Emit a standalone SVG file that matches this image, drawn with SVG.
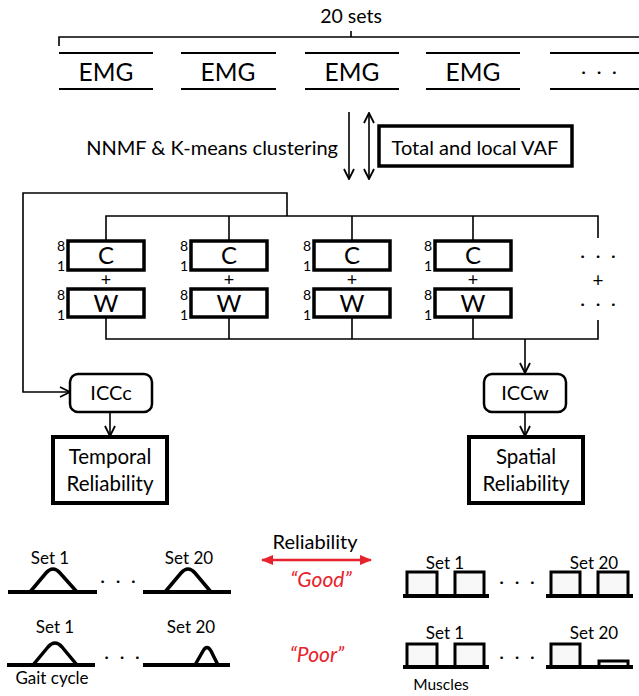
<svg xmlns="http://www.w3.org/2000/svg" width="639" height="696" viewBox="0 0 639 696">
<defs>
<style>
text{font-family:Lato,"Liberation Sans",sans-serif;fill:#000}
.t20{font-size:20px}
.t21{font-size:20.5px}
.emg{font-size:24.5px}
.cw{font-size:24px}
.plus{font-size:18px}
.num{font-size:14px}
.s17{font-size:17px}
.dots{font-size:18px;letter-spacing:3px}
.red{fill:#e8222a;font-style:italic;font-size:21px}
.ln{stroke:#000;stroke-width:1.6;fill:none}
.bx{fill:#fff;stroke:#000;stroke-width:3.5}
.thick{fill:#fff;stroke:#000;stroke-width:4}
.icc{fill:#fff;stroke:#000;stroke-width:2.5}
.base{stroke:#000;stroke-width:4;fill:none}
.hump{stroke:#000;stroke-width:3.5;fill:none;stroke-linejoin:round}
.bar{fill:#f8f8f8;stroke:#000;stroke-width:3}
.emgl{stroke:#000;stroke-width:2;fill:none}
</style>
<marker id="ah" viewBox="0 0 12 12" refX="11" refY="6" markerWidth="12" markerHeight="12" markerUnits="userSpaceOnUse" orient="auto-start-reverse">
<path d="M1,1 L11,6 L1,11" fill="none" stroke="#000" stroke-width="1.8"/>
</marker>
<marker id="rh" viewBox="0 0 12 12" refX="11" refY="6" markerWidth="12" markerHeight="12" markerUnits="userSpaceOnUse" orient="auto-start-reverse">
<path d="M0,1 L12,6 L0,11 Z" fill="#e8222a"/>
</marker>
</defs>
<rect width="639" height="696" fill="#fff"/>

<g id="sets">
<text class="t20" x="351" y="23" text-anchor="middle" style="font-size:19.5px">20 sets</text>
<path class="ln" d="M59,46 V37 H639 M351,37 V31"/>
</g>

<g id="emg">
<path class="emgl" d="M59,53 H153 M181,53 H276 M305,53 H399 M426,53 H520 M550,53 H639 M59,89 H153 M181,89 H276 M305,89 H399 M426,89 H520 M550,89 H639"/>
<text class="emg" x="106" y="81" text-anchor="middle">EMG</text>
<text class="emg" x="228" y="81" text-anchor="middle">EMG</text>
<text class="emg" x="352" y="81" text-anchor="middle">EMG</text>
<text class="emg" x="473" y="81" text-anchor="middle">EMG</text>
<text class="dots" x="600.5" y="78" text-anchor="middle">· · ·</text>
</g>

<g id="nnmf">
<text class="t20" x="338" y="155" text-anchor="end">NNMF &amp; K-means clustering</text>
</g>

<g id="vaf">
<rect class="bx" x="379" y="126" width="193" height="40"/>
<text class="t20" x="475" y="155" text-anchor="middle">Total and local VAF</text>
</g>

<g id="col1">
<rect class="bx" x="68" y="241" width="76" height="29"/>
<rect class="bx" x="68" y="289" width="76" height="28"/>
<text class="cw" x="106" y="264" text-anchor="middle">C</text>
<text class="plus" x="106" y="286" text-anchor="middle">+</text>
<text class="cw" x="106" y="312" text-anchor="middle">W</text>
<text class="num" x="65" y="251" text-anchor="end">8</text>
<text class="num" x="65" y="271" text-anchor="end">1</text>
<text class="num" x="65" y="300" text-anchor="end">8</text>
<text class="num" x="65" y="320" text-anchor="end">1</text>
</g>
<g id="col2">
<rect class="bx" x="191" y="241" width="76" height="29"/>
<rect class="bx" x="191" y="289" width="76" height="28"/>
<text class="cw" x="229" y="264" text-anchor="middle">C</text>
<text class="plus" x="229" y="286" text-anchor="middle">+</text>
<text class="cw" x="229" y="312" text-anchor="middle">W</text>
<text class="num" x="188" y="251" text-anchor="end">8</text>
<text class="num" x="188" y="271" text-anchor="end">1</text>
<text class="num" x="188" y="300" text-anchor="end">8</text>
<text class="num" x="188" y="320" text-anchor="end">1</text>
</g>
<g id="col3">
<rect class="bx" x="314" y="241" width="76" height="29"/>
<rect class="bx" x="314" y="289" width="76" height="28"/>
<text class="cw" x="352" y="264" text-anchor="middle">C</text>
<text class="plus" x="352" y="286" text-anchor="middle">+</text>
<text class="cw" x="352" y="312" text-anchor="middle">W</text>
<text class="num" x="311" y="251" text-anchor="end">8</text>
<text class="num" x="311" y="271" text-anchor="end">1</text>
<text class="num" x="311" y="300" text-anchor="end">8</text>
<text class="num" x="311" y="320" text-anchor="end">1</text>
</g>
<g id="col4">
<rect class="bx" x="435" y="241" width="76" height="29"/>
<rect class="bx" x="435" y="289" width="76" height="28"/>
<text class="cw" x="473" y="264" text-anchor="middle">C</text>
<text class="plus" x="473" y="286" text-anchor="middle">+</text>
<text class="cw" x="473" y="312" text-anchor="middle">W</text>
<text class="num" x="432" y="251" text-anchor="end">8</text>
<text class="num" x="432" y="271" text-anchor="end">1</text>
<text class="num" x="432" y="300" text-anchor="end">8</text>
<text class="num" x="432" y="320" text-anchor="end">1</text>
</g>
<g id="col5">
<text class="dots" x="599.5" y="262" text-anchor="middle">· · ·</text>
<text class="plus" x="598" y="287" text-anchor="middle" style="font-size:19px">+</text>
<text class="dots" x="599.5" y="310" text-anchor="middle">· · ·</text>
</g>

<g id="iccc">
<rect class="icc" x="70" y="374" width="82" height="38" rx="8"/>
<text class="t20" x="111" y="400" text-anchor="middle">ICCc</text>
</g>
<g id="iccw">
<rect class="icc" x="484" y="374" width="82" height="38" rx="8"/>
<text class="t20" x="525" y="400" text-anchor="middle">ICCw</text>
</g>
<g id="temporal">
<rect class="thick" x="53" y="437" width="114" height="66"/>
<text class="t21" x="110" y="464" text-anchor="middle">Temporal</text>
<text class="t21" x="110" y="491" text-anchor="middle">Reliability</text>
</g>
<g id="spatial">
<rect class="thick" x="469" y="437" width="114" height="66"/>
<text class="t21" x="526" y="464" text-anchor="middle">Spatial</text>
<text class="t21" x="526" y="491" text-anchor="middle">Reliability</text>
</g>

<g id="connectors">
<path class="ln" d="M349,112 V179" marker-end="url(#ah)"/>
<path class="ln" d="M369,113 V179" marker-start="url(#ah)" marker-end="url(#ah)"/>
<path class="ln" d="M106,241 V216 H598 V238 M229,216 V241 M352,216 V241 M473,216 V241"/>
<path class="ln" d="M106,317 V339 H598 V320 M229,317 V339 M352,317 V339 M473,317 V339"/>
<path class="ln" d="M287,216 V193 H23 V392 H70" marker-end="url(#ah)"/>
<path class="ln" d="M525,339 V373" marker-end="url(#ah)"/>
<path class="ln" d="M110,412 V436" marker-end="url(#ah)"/>
<path class="ln" d="M525,412 V436" marker-end="url(#ah)"/>
</g>

<g id="legend">
<text class="t20" x="315" y="549" text-anchor="middle">Reliability</text>
<path d="M262,560 H371" stroke="#e8222a" stroke-width="2.5" fill="none" marker-start="url(#rh)" marker-end="url(#rh)"/>
<text class="red" x="321" y="587" text-anchor="middle">“Good”</text>
<text class="red" x="317" y="662" text-anchor="middle">“Poor”</text>

<text class="s17" x="50" y="564" text-anchor="middle">Set 1</text>
<text class="s17" x="189" y="564" text-anchor="middle">Set 20</text>
<path class="base" d="M8,592 H97 M143,592 H231 M7,665 H95 M143,665 H230"/>
<path class="hump" d="M30,592 L46,573 Q53,565 60,573 L77,592"/>
<path class="hump" d="M165,592 L181,573 Q188,565 195,573 L211,592"/>
<text class="dots" x="119.5" y="587" text-anchor="middle">· · ·</text>
<text class="s17" x="55" y="633" text-anchor="middle">Set 1</text>
<text class="s17" x="191" y="633" text-anchor="middle">Set 20</text>
<path class="hump" d="M33,665 L48,647 Q55,639 62,647 L77,665"/>
<path class="hump" d="M195,665 L203,651 Q207,644 211,651 L218,665"/>
<text class="dots" x="123.5" y="663" text-anchor="middle">· · ·</text>
<text class="s17" x="52" y="684" text-anchor="middle">Gait cycle</text>

<text class="s17" x="445" y="569" text-anchor="middle">Set 1</text>
<text class="s17" x="594" y="569" text-anchor="middle">Set 20</text>
<rect class="bar" x="407" y="572" width="30" height="24"/>
<rect class="bar" x="455" y="572" width="29" height="24"/>
<rect class="bar" x="551" y="572" width="29" height="24"/>
<rect class="bar" x="598" y="572" width="30" height="24"/>
<path class="base" d="M403,596 H489 M546,596 H633"/>
<text class="dots" x="518.5" y="588" text-anchor="middle">· · ·</text>
<text class="s17" x="445" y="639" text-anchor="middle">Set 1</text>
<text class="s17" x="594" y="639" text-anchor="middle">Set 20</text>
<rect class="bar" x="407" y="644" width="30" height="23"/>
<rect class="bar" x="455" y="644" width="29" height="23"/>
<rect class="bar" x="551" y="644" width="29" height="23"/>
<rect class="bar" x="599" y="661" width="29" height="6"/>
<path class="base" d="M403,667 H489 M546,667 H633"/>
<text class="dots" x="518.5" y="663" text-anchor="middle">· · ·</text>
<text class="s17" x="441" y="690" text-anchor="middle" style="font-size:15.5px">Muscles</text>
</g>
</svg>
